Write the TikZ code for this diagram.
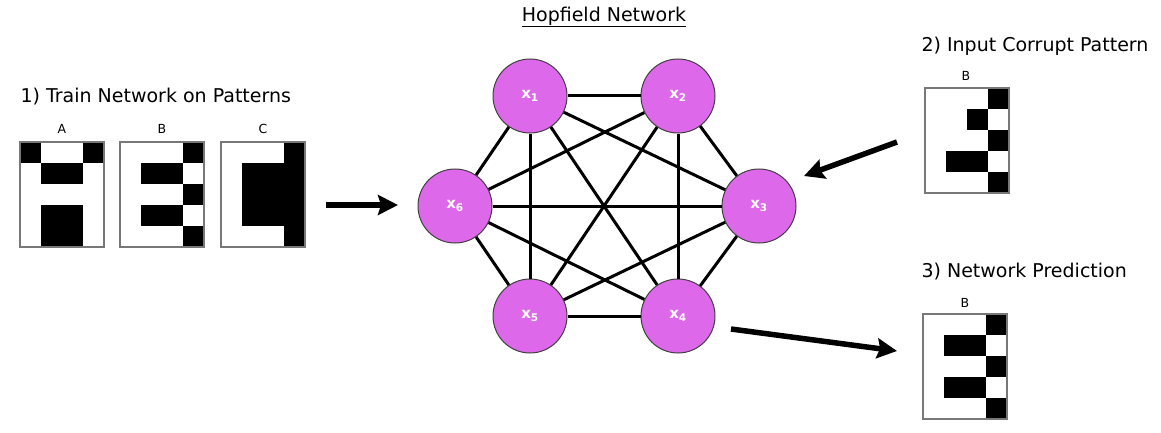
\documentclass[tikz,border=0pt]{standalone}
\usepackage{fontspec}
\setmainfont{DejaVu Sans}
\usetikzlibrary{arrows.meta, positioning}
\definecolor{NeuronColor}{RGB}{222,104,234}
\definecolor{GridColor}{RGB}{120,120,120}
\tikzstyle{neuron} = [circle, draw=black!75, line width=1pt, fill=NeuronColor, minimum size=74pt, inner sep=0pt, text=white, font=\bfseries\fontsize{15}{15}\selectfont]
\tikzstyle{link} = [line width=3pt]
\tikzstyle{bigarrow} = [line width=5.5pt, -{Stealth[length=20pt, width=20pt, inset=3pt]}]
\tikzstyle{gridbox} = [draw=GridColor, line width=1.3pt]
\tikzstyle{heading} = [font=\fontsize{19}{21}\selectfont]
\tikzstyle{letter} = [font=\fontsize{12.5}{13}\selectfont]

% draw a 4x5 pixel pattern: left, top, filled cells
\newcommand{\pixelgrid}[3]{
    \foreach \c/\r in {#3} {
        \fill (#1+\c*21, #2+\r*21) rectangle ++(21,21);
    }
    \draw[gridbox] (#1,#2) rectangle ++(84,105);
}

\begin{document}
\begin{tikzpicture}[x=1pt, y=-1pt]
    \useasboundingbox (0,0) rectangle (1161,433);

    % training patterns
    \node[heading, anchor=west] (train) at (17,97) {1) Train Network on Patterns};
    \node[letter] (labA) at (62,129) {A};
    \node[letter] (labB) at (162,129) {B};
    \node[letter] (labC) at (263,129) {C};
    \pixelgrid{20}{142}{0/0, 3/0, 1/1, 2/1, 1/3, 2/3, 1/4, 2/4}
    \pixelgrid{120}{142}{3/0, 1/1, 2/1, 3/2, 1/3, 2/3, 3/4}
    \pixelgrid{221}{142}{3/0, 1/1, 2/1, 3/1, 1/2, 2/2, 3/2, 1/3, 2/3, 3/3, 3/4}

    % network
    \node[heading] (title) at (604,17) {\underline{Hopfield Network}};
    \node[neuron] (x1) at (530,96) {x\textsubscript{1}};
    \node[neuron] (x2) at (678,96) {x\textsubscript{2}};
    \node[neuron] (x3) at (759,206) {x\textsubscript{3}};
    \node[neuron] (x4) at (678,316) {x\textsubscript{4}};
    \node[neuron] (x5) at (530,316) {x\textsubscript{5}};
    \node[neuron] (x6) at (455,206) {x\textsubscript{6}};
    \foreach \a/\others in {1/{2,3,4,5,6}, 2/{3,4,5,6}, 3/{4,5,6}, 4/{5,6}, 5/{6}} {
        \foreach \b in \others {
            \draw[link] (x\a) -- (x\b);
        }
    }

    % corrupt input
    \node[heading, anchor=west] (input) at (918,46) {2) Input Corrupt Pattern};
    \node[letter] (labIn) at (966,76) {B};
    \pixelgrid{925}{88}{3/0, 2/1, 3/2, 1/3, 2/3, 3/4}

    % prediction
    \node[heading, anchor=west] (pred) at (918,272) {3) Network Prediction};
    \node[letter] (labOut) at (965,303) {B};
    \pixelgrid{923}{314}{3/0, 1/1, 2/1, 3/2, 1/3, 2/3, 3/4}

    % arrows
    \coordinate (a1s) at (326,205);
    \coordinate (a1e) at (398,205);
    \coordinate (a2s) at (897,142);
    \coordinate (a2e) at (804,176);
    \coordinate (a3s) at (731,329);
    \coordinate (a3e) at (897,351);
    \draw[bigarrow] (a1s) -- (a1e);
    \draw[bigarrow] (a2s) -- (a2e);
    \draw[bigarrow] (a3s) -- (a3e);
\end{tikzpicture}
\end{document}
